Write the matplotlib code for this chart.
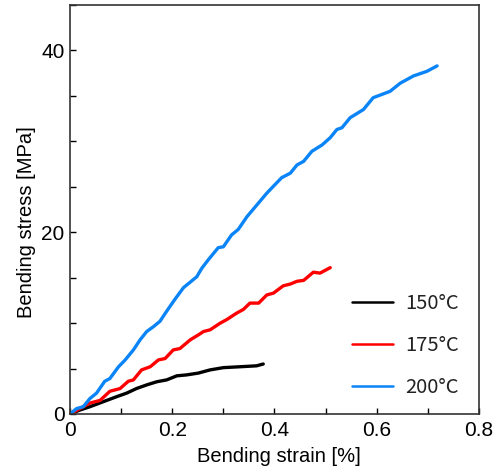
import numpy as np
import matplotlib
matplotlib.use('Agg')
import matplotlib.pyplot as plt
from matplotlib.ticker import MultipleLocator

plt.rcParams['font.family'] = ['Liberation Sans', 'DejaVu Sans']

# 150 C
x150 = [0.0, 0.0196, 0.039, 0.065, 0.091, 0.111, 0.130, 0.150, 0.170, 0.189,
        0.209, 0.228, 0.251, 0.274, 0.300, 0.333, 0.365, 0.378]
y150 = [0.0, 0.44, 0.8, 1.35, 1.9, 2.3, 2.8, 3.2, 3.55, 3.75,
        4.2, 4.3, 4.5, 4.85, 5.1, 5.2, 5.3, 5.5]

# 175 C
x175 = [0.0, 0.0196, 0.039, 0.059, 0.078, 0.098, 0.114, 0.124, 0.140, 0.157,
        0.173, 0.186, 0.202, 0.215, 0.235, 0.251, 0.261, 0.274, 0.294, 0.307,
        0.326, 0.339, 0.352, 0.369, 0.385, 0.398, 0.417, 0.431, 0.444, 0.457,
        0.476, 0.489, 0.509]
y175 = [0.0, 0.6, 1.2, 1.5, 2.5, 2.8, 3.6, 3.75, 4.85, 5.2,
        5.95, 6.1, 7.05, 7.2, 8.15, 8.7, 9.07, 9.26, 10.0, 10.4,
        11.1, 11.5, 12.2, 12.2, 13.1, 13.3, 14.1, 14.3, 14.6, 14.7,
        15.6, 15.5, 16.1]

# 200 C
x200 = [0.0, 0.013, 0.026, 0.039, 0.052, 0.068, 0.078, 0.095, 0.108, 0.124,
        0.137, 0.150, 0.163, 0.176, 0.189, 0.205, 0.222, 0.248, 0.258, 0.271,
        0.290, 0.300, 0.316, 0.329, 0.346, 0.385, 0.414, 0.431, 0.444, 0.457,
        0.473, 0.493, 0.509, 0.522, 0.532, 0.548, 0.574, 0.593, 0.626, 0.646,
        0.672, 0.698, 0.718]
y200 = [0.0, 0.6, 0.8, 1.7, 2.3, 3.6, 3.9, 5.2, 5.95, 7.05,
        8.15, 9.07, 9.6, 10.2, 11.3, 12.6, 13.9, 15.1, 16.05, 17.0,
        18.3, 18.4, 19.7, 20.3, 21.7, 24.3, 26.0, 26.5, 27.4, 27.8,
        28.9, 29.6, 30.4, 31.3, 31.5, 32.6, 33.5, 34.8, 35.5, 36.4,
        37.2, 37.7, 38.3]

labels = ['150\u00b0C', '175\u00b0C', '200\u00b0C']
colors = ['#000000', '#ff0000', '#0a84f7']

fig = plt.figure(figsize=(4.97, 4.67), dpi=100)
ax = fig.add_axes([0.1408, 0.1135, 0.823, 0.8758])

for xs, ys, lab, c in zip([x150, x175, x200], [y150, y175, y200], labels, colors):
  ax.plot(xs, ys, color=c, lw=2.4, label=lab, solid_capstyle='round',
          solid_joinstyle='round')

ax.set_xlim(0, 0.8)
ax.set_ylim(0, 45)
ax.xaxis.set_minor_locator(MultipleLocator(0.1))
ax.yaxis.set_minor_locator(MultipleLocator(5))
ax.set_xticks([0, 0.2, 0.4, 0.6, 0.8])
ax.set_xticklabels(['0', '0.2', '0.4', '0.6', '0.8'])
ax.set_yticks([0, 20, 40])
ax.tick_params(which='both', direction='in', length=4, width=1, labelsize=15)
ax.tick_params(axis='x', pad=5)
ax.tick_params(axis='y', pad=4)
for s in ax.spines.values():
  s.set_linewidth(1.2)
  s.set_color('#333333')

ax.set_xlabel('Bending strain [%]', fontsize=14.5)
ax.xaxis.set_label_coords(0.51, -0.08)
ax.set_ylabel('Bending stress [MPa]', fontsize=14.5)
ax.yaxis.set_label_coords(-0.082, 0.47)

leg = ax.legend(loc='lower right', bbox_to_anchor=(0.995, -0.005), frameon=False,
                labelspacing=1.05, handlelength=2.05, handletextpad=0.6,
                prop={'family': ['Noto Sans CJK JP', 'DejaVu Sans'], 'size': 14.5})
for h in leg.get_lines():
  h.set_linewidth(1.8)
for t in leg.get_texts():
  t.set_color('#222222')

fig.savefig('out.png', dpi=100)
